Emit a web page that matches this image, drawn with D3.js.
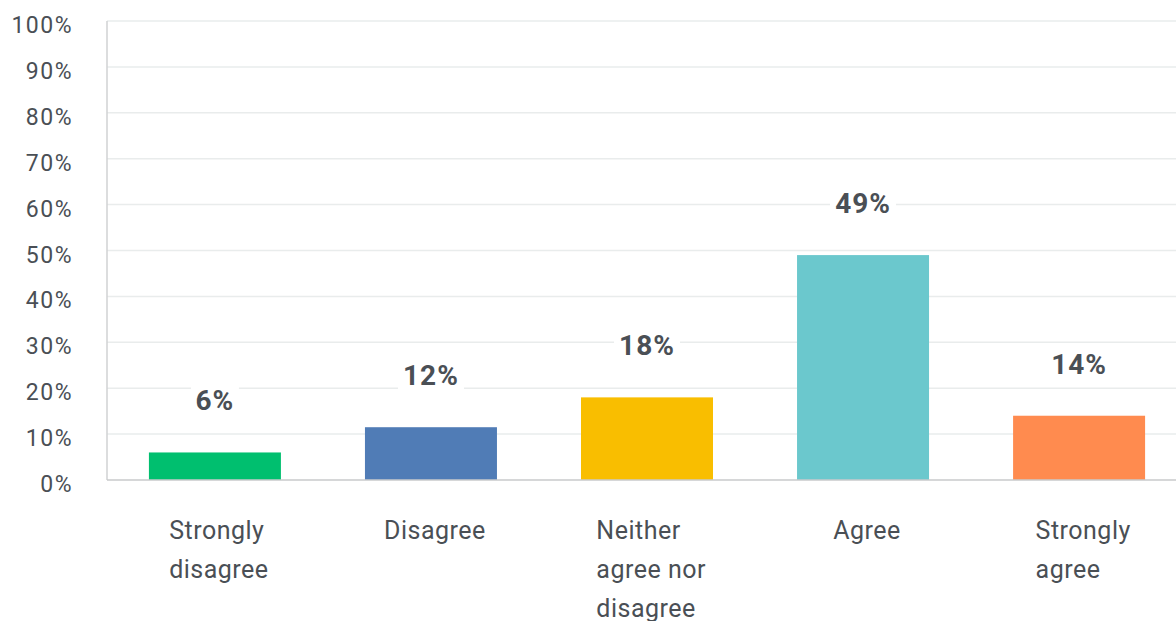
<!DOCTYPE html>
<html>
<head>
<meta charset="utf-8">
<script src="https://cdn.jsdelivr.net/npm/d3@7"></script>
<style>
  body { margin: 0; background: #fff; }
  svg { display: block; }
</style>
</head>
<body>
<svg class="chart" width="1176" height="621"></svg>
<script>
const categories = [["Strongly", "disagree"], ["Disagree"], ["Neither", "agree nor", "disagree"], ["Agree"], ["Strongly", "agree"]];
const values = [6, 11.5, 18, 49, 14];
const valueLabels = ["6%", "12%", "18%", "49%", "14%"];
const colors = ["#00bf6f", "#507cb6", "#f9be00", "#6bc8cd", "#ff8b4f"];
const yTicks = [0, 10, 20, 30, 40, 50, 60, 70, 80, 90, 100];

function drawBars(){
  const margin = {top: 21, left: 107},
        width = 1080,
        height = 459;

  const svg = d3.select('svg.chart').append('g')
                .attr('transform', `translate(${margin.left}, ${margin.top})`);

  const x = d3.scaleBand()
              .domain(d3.range(categories.length))
              .range([0, width])
              .paddingInner(0.389)
              .paddingOuter(0.194);

  const y = d3.scaleLinear()
              .domain([0, 100])
              .range([height, 0]);

  // gridlines
  svg.selectAll('line.grid')
    .data(yTicks.filter(d => d > 0))
    .enter()
    .append('line')
      .attr('class', 'grid')
      .attr('x1', 0)
      .attr('x2', width)
      .attr('y1', d => y(d))
      .attr('y2', d => y(d))
      .style('stroke', '#e9ecec')
      .style('stroke-width', 1.5);

  // y tick labels
  svg.selectAll('text.ytick')
    .data(yTicks)
    .enter()
    .append('text')
      .attr('class', 'ytick')
      .attr('x', -34)
      .attr('y', d => y(d) + 4)
      .attr('dy', '0.35em')
      .text(d => d + '%')
      .style('text-anchor', 'end')
      .style('font-family', "Roboto, sans-serif")
      .style('font-size', '23px')
      .style('letter-spacing', '1.5px')
      .style('fill', '#4a4f55');

  // bars
  svg.selectAll('rect.bar')
    .data(values)
    .enter()
    .append('rect')
      .attr('class', 'bar')
      .attr('x', (d, i) => x(i))
      .attr('y', d => y(d))
      .attr('width', x.bandwidth())
      .attr('height', d => height - y(d))
      .style('fill', (d, i) => colors[i]);

  // axes lines
  svg.append('line')
    .attr('x1', 0).attr('x2', 0)
    .attr('y1', 0).attr('y2', height)
    .style('stroke', '#d0d2d3').style('stroke-width', 1.5);
  svg.append('line')
    .attr('x1', 0).attr('x2', width)
    .attr('y1', height).attr('y2', height)
    .style('stroke', '#c8cacb').style('stroke-width', 1.5);

  // value labels with white background
  const lbl = svg.selectAll('g.vlabel')
    .data(values)
    .enter()
    .append('g')
      .attr('class', 'vlabel')
      .attr('transform', (d, i) => `translate(${x(i) + x.bandwidth() / 2}, ${y(d) - 52})`);

  lbl.append('rect')
    .attr('x', (d, i) => -valueLabels[i].length * 9 - 6)
    .attr('y', -18)
    .attr('width', (d, i) => valueLabels[i].length * 18 + 12)
    .attr('height', 36)
    .style('fill', '#fff');

  lbl.append('text')
    .attr('dy', '0.35em')
    .text((d, i) => valueLabels[i])
    .style('text-anchor', 'middle')
    .style('font-family', "Roboto, sans-serif")
    .style('font-size', '28px')
    .style('font-weight', 700)
    .style('letter-spacing', '1px')
    .style('fill', '#4a4f55');

  // category labels: left-aligned lines, block centred under the bar
  const cat = svg.selectAll('text.cat')
    .data(categories)
    .enter()
    .append('text')
      .attr('class', 'cat')
      .attr('y', height + 59)
      .style('font-family', "Roboto, sans-serif")
      .style('font-size', '25px')
      .style('letter-spacing', '0.5px')
      .style('fill', '#4a4f55');

  cat.selectAll('tspan')
    .data(d => d)
    .enter()
    .append('tspan')
      .attr('dy', (d, i) => i === 0 ? 0 : 39)
      .text(d => d);

  cat.each(function(d, i){
    const t = d3.select(this);
    let maxW = 0;
    t.selectAll('tspan').each(function(){ maxW = Math.max(maxW, this.getComputedTextLength()); });
    const left = x(i) + x.bandwidth() / 2 - maxW / 2 + 4;
    t.selectAll('tspan').attr('x', left);
  });
}

drawBars();
</script>
</body>
</html>
